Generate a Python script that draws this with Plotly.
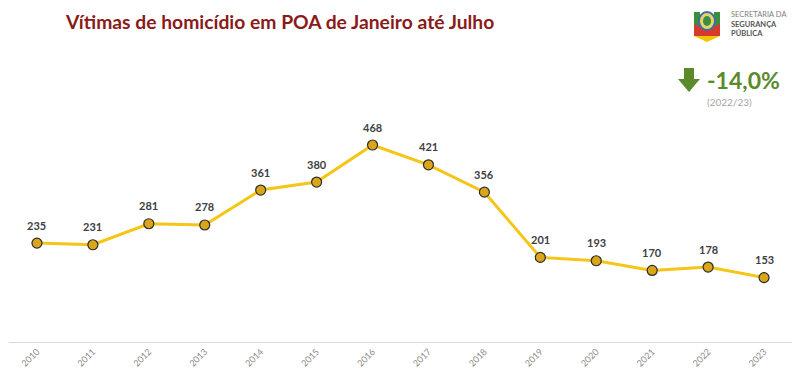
import plotly.graph_objects as go

years = ["2010", "2011", "2012", "2013", "2014", "2015", "2016",
         "2017", "2018", "2019", "2020", "2021", "2022", "2023"]
victims = [235, 231, 281, 278, 361, 380, 468, 421, 356, 201, 193, 170, 178, 153]

# page body has an 8px margin, so the figure sits at (8, 8) on screen
OFF = 8
W, H = 800 - OFF, 370 - OFF
ML, MR, MT, MB = 1, 8, 52, 28


def px(x):
    return (x - OFF - ML) / (W - ML - MR)


def py(y):
    return (H - MB - (y - OFF)) / (H - MT - MB)


FONT = "Lato, 'Open Sans', sans-serif"

fig = go.Figure()
fig.add_trace(go.Scatter(
    x=years, y=victims, mode="lines+markers",
    line=dict(color="#F5C518", width=3),
    marker=dict(size=10, color="#D9A619", line=dict(color="#2b2b2b", width=1.2)),
    cliponaxis=False, hoverinfo="skip",
))

shapes = []
# green down arrow
shapes.append(dict(type="path", xref="paper", yref="paper",
                   path=f"M {px(684)} {py(68)} L {px(694)} {py(68)} L {px(694)} {py(79)} "
                        f"L {px(700)} {py(79)} L {px(689)} {py(92)} L {px(678)} {py(79)} "
                        f"L {px(684)} {py(79)} Z",
                   fillcolor="#5A8A2C", line=dict(width=0)))
# simple emblem
shapes.append(dict(type="rect", xref="paper", yref="paper",
                   x0=px(694), x1=px(700), y0=py(12), y1=py(36),
                   fillcolor="#3C8D3C", line=dict(width=0)))
shapes.append(dict(type="rect", xref="paper", yref="paper",
                   x0=px(714), x1=px(720), y0=py(12), y1=py(36),
                   fillcolor="#3C8D3C", line=dict(width=0)))
shapes.append(dict(type="path", xref="paper", yref="paper",
                   path=f"M {px(694)} {py(24)} L {px(707)} {py(30)} L {px(720)} {py(24)} "
                        f"L {px(720)} {py(36)} L {px(694)} {py(36)} Z",
                   fillcolor="#D63A2F", line=dict(width=0)))
shapes.append(dict(type="path", xref="paper", yref="paper",
                   path=f"M {px(694)} {py(36)} L {px(720)} {py(36)} L {px(707)} {py(42)} Z",
                   fillcolor="#F2C500", line=dict(width=0)))
shapes.append(dict(type="circle", xref="paper", yref="paper",
                   x0=px(699), x1=px(715), y0=py(12), y1=py(30),
                   fillcolor="#E8D36A", line=dict(color="#3C6EA8", width=2)))
shapes.append(dict(type="circle", xref="paper", yref="paper",
                   x0=px(703), x1=px(711), y0=py(16), y1=py(26),
                   fillcolor="#3C8D3C", line=dict(width=0)))

annotations = [
    dict(text="<b>Vítimas de homicídio em POA de Janeiro até Julho</b>",
         x=px(63), y=py(22), xref="paper", yref="paper", xanchor="left", yanchor="middle",
         showarrow=False, font=dict(family=FONT, size=19.3, color="#8B1A1A")),
    dict(text="<b>-14,0%</b>", x=px(705), y=py(80), xref="paper", yref="paper",
         xanchor="left", yanchor="middle", showarrow=False,
         font=dict(family=FONT, size=23, color="#5A8A2C")),
    dict(text="(2022/23)", x=px(729), y=py(102), xref="paper", yref="paper",
         xanchor="center", yanchor="middle", showarrow=False,
         font=dict(family=FONT, size=10, color="#A6A6A6")),
    dict(text="SECRETARIA DA", x=px(729), y=py(14), xref="paper", yref="paper",
         xanchor="left", yanchor="middle", showarrow=False,
         font=dict(family=FONT, size=7.5, color="#808080")),
    dict(text="<b>SEGURANÇA</b>", x=px(729), y=py(24), xref="paper", yref="paper",
         xanchor="left", yanchor="middle", showarrow=False,
         font=dict(family=FONT, size=7.5, color="#555555")),
    dict(text="<b>PÚBLICA</b>", x=px(729), y=py(33), xref="paper", yref="paper",
         xanchor="left", yanchor="middle", showarrow=False,
         font=dict(family=FONT, size=7.5, color="#555555")),
]

# data labels above each point, placed through the data axes (category index)
for i, v in enumerate(victims):
    annotations.append(dict(text=f"<b>{v}</b>", x=i, y=v, xref="x", yref="y",
                            xanchor="center", yanchor="middle", yshift=18,
                            showarrow=False,
                            font=dict(family=FONT, size=11, color="#404040")))

fig.update_layout(
    width=W, height=H,
    margin=dict(l=ML, r=MR, t=MT, b=MB, autoexpand=False),
    paper_bgcolor="white", plot_bgcolor="white",
    showlegend=False,
    shapes=shapes, annotations=annotations,
    xaxis=dict(type="category", range=[-0.5, 13.5], showgrid=False, zeroline=False,
               automargin=False,
               showline=True, linecolor="#D9D9D9", linewidth=1, ticks="",
               tickangle=-45, tickfont=dict(family=FONT, size=9, color="#8C8C8C")),
    yaxis=dict(range=[0, 670], visible=False, showgrid=False, zeroline=False, automargin=False),
)

fig.write_html("out.html")
